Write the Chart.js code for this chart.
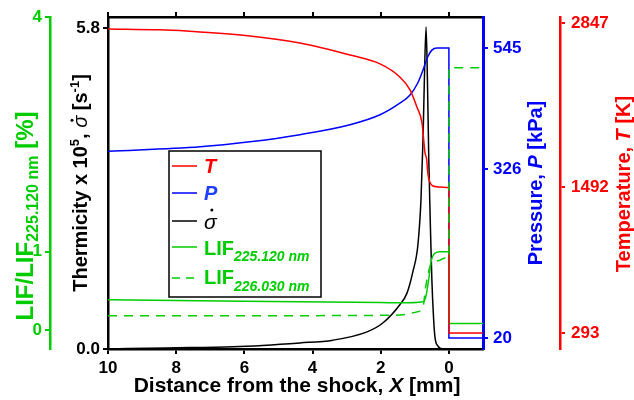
<!DOCTYPE html>
<html lang="en">
<head>
<meta charset="UTF-8">
<title>Shock structure profile</title>
<script src="https://cdn.jsdelivr.net/npm/chart.js"></script>
<style>
  html, body { margin: 0; padding: 0; background: #fff; }
</style>
</head>
<body>
<canvas id="chart" width="634" height="400"></canvas>
<script>
// values, x = distance from the shock [mm]
const xTicks = [10, 8, 6, 4, 2, 0];

const tempX = [10, 8.5, 7.3, 5.84, 4.37, 2.9, 2.02, 1.44, 1.14, 0.94, 0.79, 0.70, 0.65, 0.62, 0.56, 0.47, 0.26, 0, 0, -1];
const tempK = [2798, 2790, 2773, 2740, 2682, 2583, 2510, 2402, 2295, 2155, 2023, 1776, 1718, 1611, 1537, 1504, 1496, 1492, 293, 293];
const tempTicks = [293, 1492, 2847];

const presX = [10, 7.3, 5.84, 4.37, 2.9, 2.02, 1.44, 1.14, 0.91, 0.76, 0.62, 0.50, 0.35, 0, 0, -1];
const presKPa = [358, 366, 375, 388, 406, 424, 445, 460, 482, 505, 529, 541, 545, 545, 20, 20];
const presTicks = [20, 326, 545];

const sigX = [10, 8.27, 6.33, 4.37, 3.40, 2.40, 1.94, 1.44, 1.23, 1.06, 0.91, 0.82, 0.76, 0.72, 0.67, 0.63, 0.59, 0.54, 0.50, 0.45, 0.41, 0.32, 0.18, 0, -1];
const sigVal = [0, 0.02, 0.04, 0.11, 0.16, 0.31, 0.47, 0.80, 1.01, 1.39, 1.88, 2.69, 3.78, 4.86, 5.82, 4.86, 3.42, 2.15, 1.25, 0.56, 0.22, 0.05, 0, 0, 0];
const sigTicks = [0, 5.8];

const lif1X = [10, 6, 2, 1.44, 0.76, 0.68, 0.59, 0.53, 0.41, 0.26, 0, 0, -1];
const lif1Val = [0.385, 0.365, 0.35, 0.345, 0.36, 0.42, 0.65, 0.86, 0.98, 1.0, 1.0, 0.08, 0.08];
const lif2X = [10, 6, 2, 1.44, 0.94, 0.76, 0.68, 0.56, 0.44, 0.26, 0.18, 0, 0, -1];
const lif2Val = [0.18, 0.18, 0.185, 0.19, 0.23, 0.29, 0.55, 0.80, 0.87, 0.89, 0.91, 0.92, 3.35, 3.35];
const lifTicks = [0, 1, 4];

const FONT = "'Liberation Sans', Arial, sans-serif";
const GREEN = '#00cc00';

function pts(xs, ys) {
  return xs.map((x, i) => ({ x: x, y: ys[i] }));
}
function setTicks(list) {
  return s => { s.ticks = list.map(v => ({ value: v })); };
}
const tickFont = { family: FONT, size: 17, weight: 'bold' };

// axis titles and legend drawn by hand (sub/superscripts)
function drawRuns(ctx, runs, x, y, center) {
  let w = 0;
  runs.forEach(r => { ctx.font = r.font; r.w = ctx.measureText(r.t).width; w += r.w; });
  let cx = center ? x - w / 2 : x;
  runs.forEach(r => {
    ctx.font = r.font;
    ctx.fillStyle = r.color;
    ctx.fillText(r.t, cx, y + (r.dy || 0));
    if (r.dot) {
      ctx.beginPath();
      ctx.arc(cx + r.w * 0.62, y - r.dot, 1.5, 0, Math.PI * 2);
      ctx.fill();
    }
    cx += r.w;
  });
}
function vertical(ctx, runs, bx, cy) {
  ctx.save();
  ctx.translate(bx, cy);
  ctx.rotate(-Math.PI / 2);
  drawRuns(ctx, runs, 0, 0, true);
  ctx.restore();
}

const B20 = 'bold 20px ' + FONT;
const BI20 = 'italic bold 20px ' + FONT;
const B21 = 'bold 21px ' + FONT;

const textPlugin = {
  id: 'texts',
  afterDraw(chart) {
    const ctx = chart.ctx;
    ctx.save();
    ctx.textBaseline = 'alphabetic';

    vertical(ctx, [
      { t: 'LIF/LIF', font: 'bold 24px ' + FONT, color: GREEN },
      { t: '225.120 nm', font: 'bold 16px ' + FONT, color: GREEN, dy: 5 },
      { t: ' [%]', font: 'bold 24px ' + FONT, color: GREEN }
    ], 33, 216);

    vertical(ctx, [
      { t: 'Thermicity x 10', font: B20, color: '#000' },
      { t: '5', font: 'bold 13px ' + FONT, color: '#000', dy: -8 },
      { t: ', ', font: B20, color: '#000' },
      { t: 'σ', font: 'italic 20px ' + FONT, color: '#000', dot: 15 },
      { t: ' [s', font: B20, color: '#000' },
      { t: '-1', font: 'bold 13px ' + FONT, color: '#000', dy: -8 },
      { t: ']', font: B20, color: '#000' }
    ], 87, 183);

    vertical(ctx, [
      { t: 'Pressure, ', font: B20, color: '#0000ff' },
      { t: 'P', font: BI20, color: '#0000ff' },
      { t: ' [kPa]', font: B20, color: '#0000ff' }
    ], 542, 183);

    vertical(ctx, [
      { t: 'Temperature, ', font: B20, color: '#ff0000' },
      { t: 'T', font: BI20, color: '#ff0000' },
      { t: ' [K]', font: B20, color: '#ff0000' }
    ], 630, 184);

    drawRuns(ctx, [
      { t: 'Distance from the shock, ', font: B21, color: '#000' },
      { t: 'X', font: 'italic bold 21px ' + FONT, color: '#000' },
      { t: ' [mm]', font: B21, color: '#000' }
    ], 297, 392, true);

    // legend box
    ctx.fillStyle = '#fff';
    ctx.fillRect(169, 151, 152, 146);
    ctx.strokeStyle = '#000';
    ctx.lineWidth = 1.5;
    ctx.strokeRect(169, 151, 152, 146);

    const rows = [
      { y: 166, color: '#ff0000', dash: [], runs: [{ t: 'T', font: BI20, color: '#ff0000' }], base: 173 },
      { y: 193, color: '#0000ff', dash: [], runs: [{ t: 'P', font: BI20, color: '#2040ff' }], base: 200 },
      { y: 221, color: '#000', dash: [], runs: [{ t: 'σ', font: 'italic 21px ' + FONT, color: '#000', dot: 19 }], base: 229 },
      { y: 247, color: GREEN, dash: [], runs: [
        { t: 'LIF', font: B20, color: GREEN },
        { t: '225.120 nm', font: 'italic bold 14px ' + FONT, color: GREEN, dy: 6 }], base: 255 },
      { y: 278, color: GREEN, dash: [8, 6], runs: [
        { t: 'LIF', font: B20, color: GREEN },
        { t: '226.030 nm', font: 'italic bold 14px ' + FONT, color: GREEN, dy: 7 }], base: 284 }
    ];
    rows.forEach(r => {
      ctx.strokeStyle = r.color;
      ctx.lineWidth = 1.5;
      ctx.setLineDash(r.dash);
      ctx.beginPath();
      ctx.moveTo(172, r.y);
      ctx.lineTo(197, r.y);
      ctx.stroke();
      ctx.setLineDash([]);
      drawRuns(ctx, r.runs, 204, r.base, false);
    });
    ctx.restore();
  }
};

function line(label, data, color, axis, dash) {
  return {
    label: label,
    data: data,
    borderColor: color,
    borderWidth: 1.5,
    borderDash: dash || [],
    pointRadius: 0,
    fill: false,
    cubicInterpolationMode: 'monotone',
    yAxisID: axis
  };
}

new Chart(document.getElementById('chart'), {
  type: 'line',
  data: {
    datasets: [
      line('LIF 226.030 nm', pts(lif2X, lif2Val), GREEN, 'yL', [9, 7]),
      line('T', pts(tempX, tempK), '#ff0000', 'yTemp'),
      line('LIF 225.120 nm', pts(lif1X, lif1Val), GREEN, 'yL'),
      line('P', pts(presX, presKPa), '#0000ff', 'yP'),
      line('sigma', pts(sigX, sigVal), '#000000', 'yS')
    ]
  },
  plugins: [textPlugin],
  options: {
    responsive: false,
    animation: false,
    events: [],
    layout: { padding: 0 },
    plugins: { legend: { display: false }, tooltip: { enabled: false } },
    scales: {
      x: {
        type: 'linear', position: 'bottom', reverse: true, min: -1, max: 10,
        afterBuildTicks: setTicks(xTicks),
        afterFit: s => { s.height = 51; },
        ticks: { color: '#000', font: tickFont, padding: 4, maxRotation: 0, callback: v => String(v) },
        grid: { drawOnChartArea: false, color: '#000', lineWidth: 2, tickLength: 5 },
        border: { color: '#000', width: 2.5 }
      },
      xTop: {
        type: 'linear', position: 'top', reverse: true, min: -1, max: 10,
        afterBuildTicks: setTicks(xTicks),
        afterFit: s => { s.height = 17; },
        ticks: { display: false },
        grid: { drawOnChartArea: false, color: '#000', lineWidth: 2, tickLength: 5 },
        border: { color: '#000', width: 2.5 }
      },
      yL: {
        position: 'left', weight: 10, min: -0.245, max: 4,
        afterBuildTicks: setTicks(lifTicks),
        afterFit: s => { s.width = 50; },
        ticks: { color: GREEN, font: tickFont, padding: 3, callback: v => String(v) },
        grid: { drawOnChartArea: false, color: GREEN, lineWidth: 2, tickLength: 5 },
        border: { color: GREEN, width: 2.5 }
      },
      yS: {
        position: 'left', weight: 5, min: 0, max: 6.0,
        afterBuildTicks: setTicks(sigTicks),
        afterFit: s => { s.width = 58; },
        ticks: { color: '#000', font: tickFont, padding: 3, callback: v => v.toFixed(1) },
        grid: { drawOnChartArea: false, color: '#000', lineWidth: 2, tickLength: 5 },
        border: { color: '#000', width: 2.5 }
      },
      yP: {
        position: 'right', weight: 1, min: 0, max: 601,
        afterBuildTicks: setTicks(presTicks),
        afterFit: s => { s.width = 77; },
        ticks: { color: '#0000ff', font: tickFont, padding: 5, callback: v => String(v) },
        grid: { drawOnChartArea: false, color: '#0000ff', lineWidth: 2, tickLength: 5 },
        border: { color: '#0000ff', width: 3 }
      },
      yTemp: {
        position: 'right', weight: 5, min: 161, max: 2896,
        afterBuildTicks: setTicks(tempTicks),
        afterFit: s => { s.width = 74; },
        ticks: { color: '#ff0000', font: tickFont, padding: 6, callback: v => String(v) },
        grid: { drawOnChartArea: false, color: '#ff0000', lineWidth: 2, tickLength: 5 },
        border: { color: '#ff0000', width: 2.5 }
      }
    }
  }
});
</script>
</body>
</html>
